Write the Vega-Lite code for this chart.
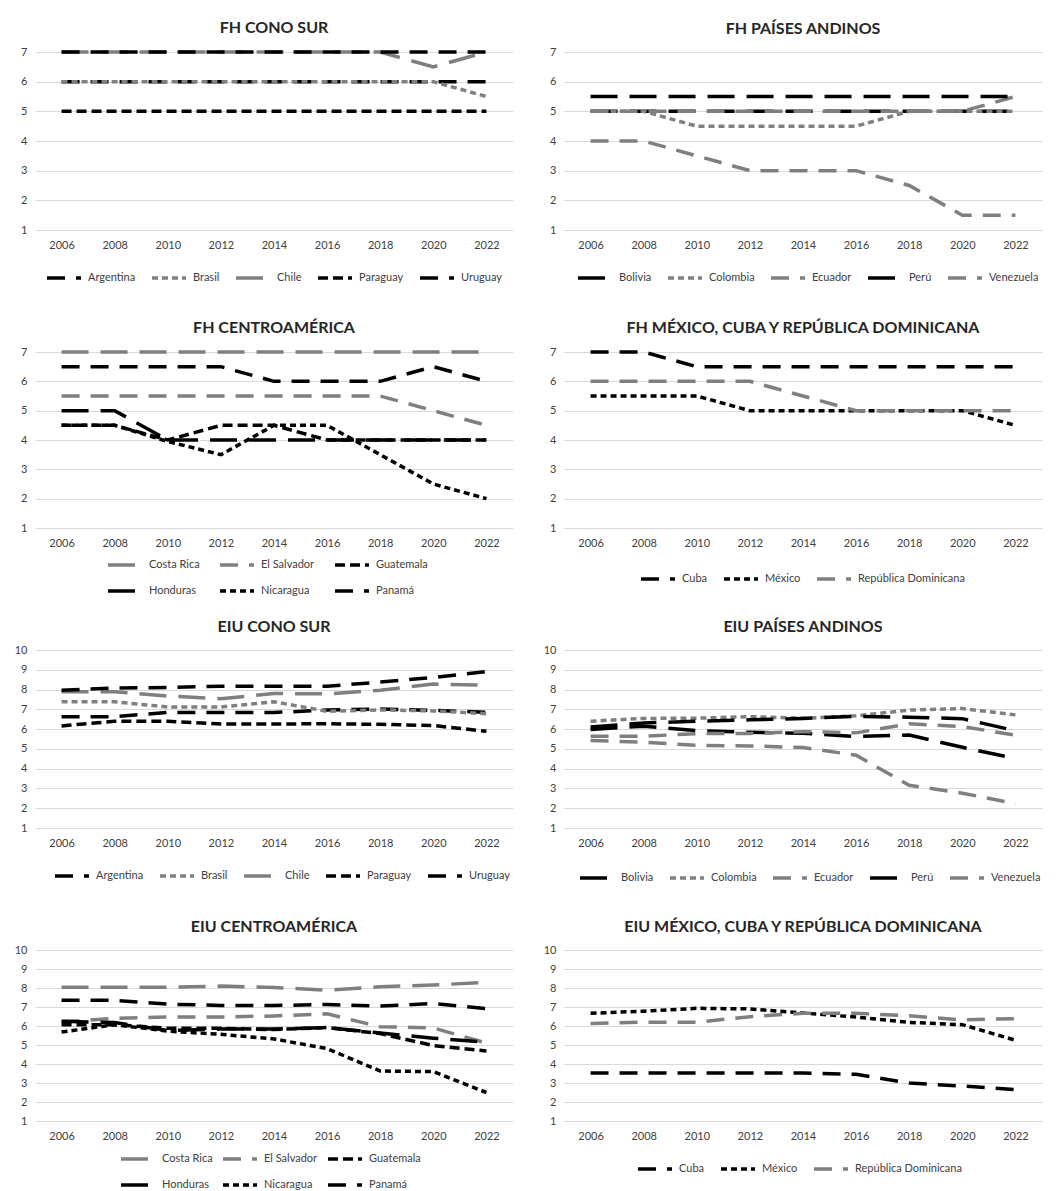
{
  "$schema": "https://vega.github.io/schema/vega-lite/v6.json",
  "padding": {"left": 14, "top": 20, "right": 5, "bottom": 5},
  "config": {
    "font": "Lato",
    "view": {"stroke": null},
    "axis": {"domain": false, "ticks": false, "labelFont": "Lato", "labelFontSize": 11, "labelColor": "#404040", "gridColor": "#d9d9d9", "gridWidth": 1, "title": null},
    "axisX": {"grid": false, "labelAngle": 0, "labelPadding": 9},
    "axisY": {"grid": true, "labelPadding": 8},
    "title": {"fontSize": 16, "font": "Lato", "fontWeight": "bold", "color": "#262626", "offset": 9, "anchor": "middle"},
    "legend": {"labelFont": "Lato", "labelFontSize": 11, "labelColor": "#404040", "symbolSize": 1156, "symbolStrokeWidth": 3.5, "labelOffset": 5, "columnPadding": 9, "rowPadding": -13, "symbolType": "stroke", "title": null}
  },
  "datasets": {
    "fh_cs": [
      {"year":"2006","country":"Argentina","value":6},{"year":"2008","country":"Argentina","value":6},{"year":"2010","country":"Argentina","value":6},{"year":"2012","country":"Argentina","value":6},{"year":"2014","country":"Argentina","value":6},{"year":"2016","country":"Argentina","value":6},{"year":"2018","country":"Argentina","value":6},{"year":"2020","country":"Argentina","value":6},{"year":"2022","country":"Argentina","value":6},
      {"year":"2006","country":"Brasil","value":6},{"year":"2008","country":"Brasil","value":6},{"year":"2010","country":"Brasil","value":6},{"year":"2012","country":"Brasil","value":6},{"year":"2014","country":"Brasil","value":6},{"year":"2016","country":"Brasil","value":6},{"year":"2018","country":"Brasil","value":6},{"year":"2020","country":"Brasil","value":6},{"year":"2022","country":"Brasil","value":5.5},
      {"year":"2006","country":"Chile","value":7},{"year":"2008","country":"Chile","value":7},{"year":"2010","country":"Chile","value":7},{"year":"2012","country":"Chile","value":7},{"year":"2014","country":"Chile","value":7},{"year":"2016","country":"Chile","value":7},{"year":"2018","country":"Chile","value":7},{"year":"2020","country":"Chile","value":6.5},{"year":"2022","country":"Chile","value":7},
      {"year":"2006","country":"Paraguay","value":5},{"year":"2008","country":"Paraguay","value":5},{"year":"2010","country":"Paraguay","value":5},{"year":"2012","country":"Paraguay","value":5},{"year":"2014","country":"Paraguay","value":5},{"year":"2016","country":"Paraguay","value":5},{"year":"2018","country":"Paraguay","value":5},{"year":"2020","country":"Paraguay","value":5},{"year":"2022","country":"Paraguay","value":5},
      {"year":"2006","country":"Uruguay","value":7},{"year":"2008","country":"Uruguay","value":7},{"year":"2010","country":"Uruguay","value":7},{"year":"2012","country":"Uruguay","value":7},{"year":"2014","country":"Uruguay","value":7},{"year":"2016","country":"Uruguay","value":7},{"year":"2018","country":"Uruguay","value":7},{"year":"2020","country":"Uruguay","value":7},{"year":"2022","country":"Uruguay","value":7}
    ],
    "fh_an": [
      {"year":"2006","country":"Bolivia","value":5},{"year":"2008","country":"Bolivia","value":5},{"year":"2010","country":"Bolivia","value":5},{"year":"2012","country":"Bolivia","value":5},{"year":"2014","country":"Bolivia","value":5},{"year":"2016","country":"Bolivia","value":5},{"year":"2018","country":"Bolivia","value":5},{"year":"2020","country":"Bolivia","value":5},{"year":"2022","country":"Bolivia","value":5},
      {"year":"2006","country":"Colombia","value":5},{"year":"2008","country":"Colombia","value":5},{"year":"2010","country":"Colombia","value":4.5},{"year":"2012","country":"Colombia","value":4.5},{"year":"2014","country":"Colombia","value":4.5},{"year":"2016","country":"Colombia","value":4.5},{"year":"2018","country":"Colombia","value":5},{"year":"2020","country":"Colombia","value":5},{"year":"2022","country":"Colombia","value":5},
      {"year":"2006","country":"Ecuador","value":5},{"year":"2008","country":"Ecuador","value":5},{"year":"2010","country":"Ecuador","value":5},{"year":"2012","country":"Ecuador","value":5},{"year":"2014","country":"Ecuador","value":5},{"year":"2016","country":"Ecuador","value":5},{"year":"2018","country":"Ecuador","value":5},{"year":"2020","country":"Ecuador","value":5},{"year":"2022","country":"Ecuador","value":5.5},
      {"year":"2006","country":"Perú","value":5.5},{"year":"2008","country":"Perú","value":5.5},{"year":"2010","country":"Perú","value":5.5},{"year":"2012","country":"Perú","value":5.5},{"year":"2014","country":"Perú","value":5.5},{"year":"2016","country":"Perú","value":5.5},{"year":"2018","country":"Perú","value":5.5},{"year":"2020","country":"Perú","value":5.5},{"year":"2022","country":"Perú","value":5.5},
      {"year":"2006","country":"Venezuela","value":4},{"year":"2008","country":"Venezuela","value":4},{"year":"2010","country":"Venezuela","value":3.5},{"year":"2012","country":"Venezuela","value":3},{"year":"2014","country":"Venezuela","value":3},{"year":"2016","country":"Venezuela","value":3},{"year":"2018","country":"Venezuela","value":2.5},{"year":"2020","country":"Venezuela","value":1.5},{"year":"2022","country":"Venezuela","value":1.5}
    ],
    "fh_ca": [
      {"year":"2006","country":"Costa Rica","value":7},{"year":"2008","country":"Costa Rica","value":7},{"year":"2010","country":"Costa Rica","value":7},{"year":"2012","country":"Costa Rica","value":7},{"year":"2014","country":"Costa Rica","value":7},{"year":"2016","country":"Costa Rica","value":7},{"year":"2018","country":"Costa Rica","value":7},{"year":"2020","country":"Costa Rica","value":7},{"year":"2022","country":"Costa Rica","value":7},
      {"year":"2006","country":"El Salvador","value":5.5},{"year":"2008","country":"El Salvador","value":5.5},{"year":"2010","country":"El Salvador","value":5.5},{"year":"2012","country":"El Salvador","value":5.5},{"year":"2014","country":"El Salvador","value":5.5},{"year":"2016","country":"El Salvador","value":5.5},{"year":"2018","country":"El Salvador","value":5.5},{"year":"2020","country":"El Salvador","value":5},{"year":"2022","country":"El Salvador","value":4.5},
      {"year":"2006","country":"Guatemala","value":4.5},{"year":"2008","country":"Guatemala","value":4.5},{"year":"2010","country":"Guatemala","value":4},{"year":"2012","country":"Guatemala","value":4.5},{"year":"2014","country":"Guatemala","value":4.5},{"year":"2016","country":"Guatemala","value":4},{"year":"2018","country":"Guatemala","value":4},{"year":"2020","country":"Guatemala","value":4},{"year":"2022","country":"Guatemala","value":4},
      {"year":"2006","country":"Honduras","value":5},{"year":"2008","country":"Honduras","value":5},{"year":"2010","country":"Honduras","value":4},{"year":"2012","country":"Honduras","value":4},{"year":"2014","country":"Honduras","value":4},{"year":"2016","country":"Honduras","value":4},{"year":"2018","country":"Honduras","value":4},{"year":"2020","country":"Honduras","value":4},{"year":"2022","country":"Honduras","value":4},
      {"year":"2006","country":"Nicaragua","value":4.5},{"year":"2008","country":"Nicaragua","value":4.5},{"year":"2010","country":"Nicaragua","value":3.95},{"year":"2012","country":"Nicaragua","value":3.5},{"year":"2014","country":"Nicaragua","value":4.5},{"year":"2016","country":"Nicaragua","value":4.5},{"year":"2018","country":"Nicaragua","value":3.5},{"year":"2020","country":"Nicaragua","value":2.5},{"year":"2022","country":"Nicaragua","value":2},
      {"year":"2006","country":"Panamá","value":6.5},{"year":"2008","country":"Panamá","value":6.5},{"year":"2010","country":"Panamá","value":6.5},{"year":"2012","country":"Panamá","value":6.5},{"year":"2014","country":"Panamá","value":6},{"year":"2016","country":"Panamá","value":6},{"year":"2018","country":"Panamá","value":6},{"year":"2020","country":"Panamá","value":6.5},{"year":"2022","country":"Panamá","value":6}
    ],
    "fh_mc": [
      {"year":"2006","country":"Cuba","value":7},{"year":"2008","country":"Cuba","value":7},{"year":"2010","country":"Cuba","value":6.5},{"year":"2012","country":"Cuba","value":6.5},{"year":"2014","country":"Cuba","value":6.5},{"year":"2016","country":"Cuba","value":6.5},{"year":"2018","country":"Cuba","value":6.5},{"year":"2020","country":"Cuba","value":6.5},{"year":"2022","country":"Cuba","value":6.5},
      {"year":"2006","country":"México","value":5.5},{"year":"2008","country":"México","value":5.5},{"year":"2010","country":"México","value":5.5},{"year":"2012","country":"México","value":5},{"year":"2014","country":"México","value":5},{"year":"2016","country":"México","value":5},{"year":"2018","country":"México","value":5},{"year":"2020","country":"México","value":5},{"year":"2022","country":"México","value":4.5},
      {"year":"2006","country":"República Dominicana","value":6},{"year":"2008","country":"República Dominicana","value":6},{"year":"2010","country":"República Dominicana","value":6},{"year":"2012","country":"República Dominicana","value":6},{"year":"2014","country":"República Dominicana","value":5.5},{"year":"2016","country":"República Dominicana","value":5},{"year":"2018","country":"República Dominicana","value":5},{"year":"2020","country":"República Dominicana","value":5},{"year":"2022","country":"República Dominicana","value":5}
    ],
    "eiu_cs": [
      {"year":"2006","country":"Argentina","value":6.63},{"year":"2008","country":"Argentina","value":6.63},{"year":"2010","country":"Argentina","value":6.84},{"year":"2012","country":"Argentina","value":6.84},{"year":"2014","country":"Argentina","value":6.84},{"year":"2016","country":"Argentina","value":6.96},{"year":"2018","country":"Argentina","value":7.02},{"year":"2020","country":"Argentina","value":6.95},{"year":"2022","country":"Argentina","value":6.85},
      {"year":"2006","country":"Brasil","value":7.38},{"year":"2008","country":"Brasil","value":7.38},{"year":"2010","country":"Brasil","value":7.12},{"year":"2012","country":"Brasil","value":7.12},{"year":"2014","country":"Brasil","value":7.38},{"year":"2016","country":"Brasil","value":6.9},{"year":"2018","country":"Brasil","value":6.97},{"year":"2020","country":"Brasil","value":6.92},{"year":"2022","country":"Brasil","value":6.78},
      {"year":"2006","country":"Chile","value":7.89},{"year":"2008","country":"Chile","value":7.89},{"year":"2010","country":"Chile","value":7.67},{"year":"2012","country":"Chile","value":7.54},{"year":"2014","country":"Chile","value":7.8},{"year":"2016","country":"Chile","value":7.78},{"year":"2018","country":"Chile","value":7.97},{"year":"2020","country":"Chile","value":8.28},{"year":"2022","country":"Chile","value":8.22},
      {"year":"2006","country":"Paraguay","value":6.16},{"year":"2008","country":"Paraguay","value":6.4},{"year":"2010","country":"Paraguay","value":6.4},{"year":"2012","country":"Paraguay","value":6.26},{"year":"2014","country":"Paraguay","value":6.26},{"year":"2016","country":"Paraguay","value":6.27},{"year":"2018","country":"Paraguay","value":6.24},{"year":"2020","country":"Paraguay","value":6.18},{"year":"2022","country":"Paraguay","value":5.89},
      {"year":"2006","country":"Uruguay","value":7.96},{"year":"2008","country":"Uruguay","value":8.08},{"year":"2010","country":"Uruguay","value":8.1},{"year":"2012","country":"Uruguay","value":8.17},{"year":"2014","country":"Uruguay","value":8.17},{"year":"2016","country":"Uruguay","value":8.17},{"year":"2018","country":"Uruguay","value":8.38},{"year":"2020","country":"Uruguay","value":8.61},{"year":"2022","country":"Uruguay","value":8.91}
    ],
    "eiu_an": [
      {"year":"2006","country":"Bolivia","value":5.98},{"year":"2008","country":"Bolivia","value":6.15},{"year":"2010","country":"Bolivia","value":5.92},{"year":"2012","country":"Bolivia","value":5.84},{"year":"2014","country":"Bolivia","value":5.79},{"year":"2016","country":"Bolivia","value":5.63},{"year":"2018","country":"Bolivia","value":5.7},{"year":"2020","country":"Bolivia","value":5.08},{"year":"2022","country":"Bolivia","value":4.51},
      {"year":"2006","country":"Colombia","value":6.4},{"year":"2008","country":"Colombia","value":6.54},{"year":"2010","country":"Colombia","value":6.55},{"year":"2012","country":"Colombia","value":6.63},{"year":"2014","country":"Colombia","value":6.55},{"year":"2016","country":"Colombia","value":6.67},{"year":"2018","country":"Colombia","value":6.96},{"year":"2020","country":"Colombia","value":7.04},{"year":"2022","country":"Colombia","value":6.72},
      {"year":"2006","country":"Ecuador","value":5.64},{"year":"2008","country":"Ecuador","value":5.64},{"year":"2010","country":"Ecuador","value":5.77},{"year":"2012","country":"Ecuador","value":5.78},{"year":"2014","country":"Ecuador","value":5.87},{"year":"2016","country":"Ecuador","value":5.81},{"year":"2018","country":"Ecuador","value":6.27},{"year":"2020","country":"Ecuador","value":6.13},{"year":"2022","country":"Ecuador","value":5.69},
      {"year":"2006","country":"Perú","value":6.11},{"year":"2008","country":"Perú","value":6.31},{"year":"2010","country":"Perú","value":6.4},{"year":"2012","country":"Perú","value":6.47},{"year":"2014","country":"Perú","value":6.54},{"year":"2016","country":"Perú","value":6.65},{"year":"2018","country":"Perú","value":6.6},{"year":"2020","country":"Perú","value":6.53},{"year":"2022","country":"Perú","value":5.92},
      {"year":"2006","country":"Venezuela","value":5.42},{"year":"2008","country":"Venezuela","value":5.34},{"year":"2010","country":"Venezuela","value":5.18},{"year":"2012","country":"Venezuela","value":5.15},{"year":"2014","country":"Venezuela","value":5.07},{"year":"2016","country":"Venezuela","value":4.68},{"year":"2018","country":"Venezuela","value":3.16},{"year":"2020","country":"Venezuela","value":2.76},{"year":"2022","country":"Venezuela","value":2.23}
    ],
    "eiu_ca": [
      {"year":"2006","country":"Costa Rica","value":8.04},{"year":"2008","country":"Costa Rica","value":8.04},{"year":"2010","country":"Costa Rica","value":8.04},{"year":"2012","country":"Costa Rica","value":8.1},{"year":"2014","country":"Costa Rica","value":8.03},{"year":"2016","country":"Costa Rica","value":7.88},{"year":"2018","country":"Costa Rica","value":8.07},{"year":"2020","country":"Costa Rica","value":8.16},{"year":"2022","country":"Costa Rica","value":8.29},
      {"year":"2006","country":"El Salvador","value":6.22},{"year":"2008","country":"El Salvador","value":6.4},{"year":"2010","country":"El Salvador","value":6.47},{"year":"2012","country":"El Salvador","value":6.47},{"year":"2014","country":"El Salvador","value":6.53},{"year":"2016","country":"El Salvador","value":6.64},{"year":"2018","country":"El Salvador","value":5.96},{"year":"2020","country":"El Salvador","value":5.9},{"year":"2022","country":"El Salvador","value":5.1},
      {"year":"2006","country":"Guatemala","value":6.07},{"year":"2008","country":"Guatemala","value":6.07},{"year":"2010","country":"Guatemala","value":5.88},{"year":"2012","country":"Guatemala","value":5.88},{"year":"2014","country":"Guatemala","value":5.81},{"year":"2016","country":"Guatemala","value":5.92},{"year":"2018","country":"Guatemala","value":5.6},{"year":"2020","country":"Guatemala","value":4.97},{"year":"2022","country":"Guatemala","value":4.68},
      {"year":"2006","country":"Honduras","value":6.25},{"year":"2008","country":"Honduras","value":6.18},{"year":"2010","country":"Honduras","value":5.76},{"year":"2012","country":"Honduras","value":5.84},{"year":"2014","country":"Honduras","value":5.84},{"year":"2016","country":"Honduras","value":5.92},{"year":"2018","country":"Honduras","value":5.63},{"year":"2020","country":"Honduras","value":5.36},{"year":"2022","country":"Honduras","value":5.15},
      {"year":"2006","country":"Nicaragua","value":5.68},{"year":"2008","country":"Nicaragua","value":6.07},{"year":"2010","country":"Nicaragua","value":5.73},{"year":"2012","country":"Nicaragua","value":5.56},{"year":"2014","country":"Nicaragua","value":5.32},{"year":"2016","country":"Nicaragua","value":4.81},{"year":"2018","country":"Nicaragua","value":3.63},{"year":"2020","country":"Nicaragua","value":3.6},{"year":"2022","country":"Nicaragua","value":2.5},
      {"year":"2006","country":"Panamá","value":7.35},{"year":"2008","country":"Panamá","value":7.35},{"year":"2010","country":"Panamá","value":7.15},{"year":"2012","country":"Panamá","value":7.08},{"year":"2014","country":"Panamá","value":7.08},{"year":"2016","country":"Panamá","value":7.13},{"year":"2018","country":"Panamá","value":7.05},{"year":"2020","country":"Panamá","value":7.18},{"year":"2022","country":"Panamá","value":6.91}
    ],
    "eiu_mc": [
      {"year":"2006","country":"Cuba","value":3.52},{"year":"2008","country":"Cuba","value":3.52},{"year":"2010","country":"Cuba","value":3.52},{"year":"2012","country":"Cuba","value":3.52},{"year":"2014","country":"Cuba","value":3.52},{"year":"2016","country":"Cuba","value":3.46},{"year":"2018","country":"Cuba","value":3.0},{"year":"2020","country":"Cuba","value":2.84},{"year":"2022","country":"Cuba","value":2.65},
      {"year":"2006","country":"México","value":6.67},{"year":"2008","country":"México","value":6.78},{"year":"2010","country":"México","value":6.93},{"year":"2012","country":"México","value":6.9},{"year":"2014","country":"México","value":6.68},{"year":"2016","country":"México","value":6.47},{"year":"2018","country":"México","value":6.19},{"year":"2020","country":"México","value":6.07},{"year":"2022","country":"México","value":5.25},
      {"year":"2006","country":"República Dominicana","value":6.13},{"year":"2008","country":"República Dominicana","value":6.2},{"year":"2010","country":"República Dominicana","value":6.2},{"year":"2012","country":"República Dominicana","value":6.49},{"year":"2014","country":"República Dominicana","value":6.67},{"year":"2016","country":"República Dominicana","value":6.67},{"year":"2018","country":"República Dominicana","value":6.54},{"year":"2020","country":"República Dominicana","value":6.32},{"year":"2022","country":"República Dominicana","value":6.39}
    ]
  },
  "bounds": "flush",
  "columns": 2,
  "spacing": {"row": 122, "column": 51},
  "resolve": {"scale": {"x": "independent", "y": "independent", "color": "independent", "strokeDash": "independent"}, "legend": {"color": "independent", "strokeDash": "independent"}},
  "concat": [
    {
      "title": "FH CONO SUR", "width": 478, "height": 178, "data": {"name": "fh_cs"},
      "mark": {"type": "line", "strokeWidth": 3.5},
      "encoding": {
        "x": {"field": "year", "type": "ordinal", "scale": {"type": "point", "padding": 0.5}},
        "y": {"field": "value", "type": "quantitative", "scale": {"domain": [1, 7], "nice": false, "zero": false}, "axis": {"values": [1, 2, 3, 4, 5, 6, 7]}},
        "color": {"field": "country", "type": "nominal", "scale": {"domain": ["Argentina", "Brasil", "Chile", "Paraguay", "Uruguay"], "range": ["#000000", "#7f7f7f", "#7f7f7f", "#000000", "#000000"]}, "legend": {"orient": "none", "legendX": 10, "legendY": 207, "direction": "horizontal", "columns": 5}},
        "strokeDash": {"field": "country", "type": "nominal", "scale": {"domain": ["Argentina", "Brasil", "Chile", "Paraguay", "Uruguay"], "range": [[18, 11], [6, 4], [27, 12], [10, 5], [18, 11]]}, "legend": {"orient": "none", "legendX": 10, "legendY": 207, "direction": "horizontal", "columns": 5}}
      }
    },
    {
      "title": "FH PAÍSES ANDINOS", "width": 478, "height": 178, "data": {"name": "fh_an"},
      "mark": {"type": "line", "strokeWidth": 3.5},
      "encoding": {
        "x": {"field": "year", "type": "ordinal", "scale": {"type": "point", "padding": 0.5}},
        "y": {"field": "value", "type": "quantitative", "scale": {"domain": [1, 7], "nice": false, "zero": false}, "axis": {"values": [1, 2, 3, 4, 5, 6, 7]}},
        "color": {"field": "country", "type": "nominal", "scale": {"domain": ["Bolivia", "Colombia", "Ecuador", "Perú", "Venezuela"], "range": ["#000000", "#7f7f7f", "#7f7f7f", "#000000", "#7f7f7f"]}, "legend": {"orient": "none", "legendX": 12, "legendY": 207, "direction": "horizontal", "columns": 5}},
        "strokeDash": {"field": "country", "type": "nominal", "scale": {"domain": ["Bolivia", "Colombia", "Ecuador", "Perú", "Venezuela"], "range": [[27, 12], [6, 4], [18, 11], [27, 12], [18, 11]]}, "legend": {"orient": "none", "legendX": 12, "legendY": 207, "direction": "horizontal", "columns": 5}}
      }
    },
    {
      "title": "FH CENTROAMÉRICA", "width": 478, "height": 176, "data": {"name": "fh_ca"},
      "mark": {"type": "line", "strokeWidth": 3.5},
      "encoding": {
        "x": {"field": "year", "type": "ordinal", "scale": {"type": "point", "padding": 0.5}},
        "y": {"field": "value", "type": "quantitative", "scale": {"domain": [1, 7], "nice": false, "zero": false}, "axis": {"values": [1, 2, 3, 4, 5, 6, 7]}},
        "color": {"field": "country", "type": "nominal", "scale": {"domain": ["Costa Rica", "El Salvador", "Guatemala", "Honduras", "Nicaragua", "Panamá"], "range": ["#7f7f7f", "#7f7f7f", "#000000", "#000000", "#000000", "#000000"]}, "legend": {"orient": "none", "legendX": 71, "legendY": 194, "direction": "horizontal", "columns": 3, "columnPadding": 13}},
        "strokeDash": {"field": "country", "type": "nominal", "scale": {"domain": ["Costa Rica", "El Salvador", "Guatemala", "Honduras", "Nicaragua", "Panamá"], "range": [[27, 12], [18, 11], [10, 5], [27, 12], [6, 4], [18, 11]]}, "legend": {"orient": "none", "legendX": 71, "legendY": 194, "direction": "horizontal", "columns": 3, "columnPadding": 13}}
      }
    },
    {
      "title": "FH MÉXICO, CUBA Y REPÚBLICA DOMINICANA", "width": 478, "height": 176, "data": {"name": "fh_mc"},
      "mark": {"type": "line", "strokeWidth": 3.5},
      "encoding": {
        "x": {"field": "year", "type": "ordinal", "scale": {"type": "point", "padding": 0.5}},
        "y": {"field": "value", "type": "quantitative", "scale": {"domain": [1, 7], "nice": false, "zero": false}, "axis": {"values": [1, 2, 3, 4, 5, 6, 7]}},
        "color": {"field": "country", "type": "nominal", "scale": {"domain": ["Cuba", "México", "República Dominicana"], "range": ["#000000", "#000000", "#7f7f7f"]}, "legend": {"orient": "none", "legendX": 75, "legendY": 208, "direction": "horizontal", "columns": 3}},
        "strokeDash": {"field": "country", "type": "nominal", "scale": {"domain": ["Cuba", "México", "República Dominicana"], "range": [[18, 11], [6, 4], [18, 11]]}, "legend": {"orient": "none", "legendX": 75, "legendY": 208, "direction": "horizontal", "columns": 3}}
      }
    },
    {
      "title": "EIU CONO SUR", "width": 478, "height": 178, "data": {"name": "eiu_cs"},
      "mark": {"type": "line", "strokeWidth": 3.5},
      "encoding": {
        "x": {"field": "year", "type": "ordinal", "scale": {"type": "point", "padding": 0.5}},
        "y": {"field": "value", "type": "quantitative", "scale": {"domain": [1, 10], "nice": false, "zero": false}, "axis": {"values": [1, 2, 3, 4, 5, 6, 7, 8, 9, 10]}},
        "color": {"field": "country", "type": "nominal", "scale": {"domain": ["Argentina", "Brasil", "Chile", "Paraguay", "Uruguay"], "range": ["#000000", "#7f7f7f", "#7f7f7f", "#000000", "#000000"]}, "legend": {"orient": "none", "legendX": 18, "legendY": 207, "direction": "horizontal", "columns": 5}},
        "strokeDash": {"field": "country", "type": "nominal", "scale": {"domain": ["Argentina", "Brasil", "Chile", "Paraguay", "Uruguay"], "range": [[18, 11], [6, 4], [27, 12], [10, 5], [18, 11]]}, "legend": {"orient": "none", "legendX": 18, "legendY": 207, "direction": "horizontal", "columns": 5}}
      }
    },
    {
      "title": "EIU PAÍSES ANDINOS", "width": 478, "height": 178, "data": {"name": "eiu_an"},
      "mark": {"type": "line", "strokeWidth": 3.5},
      "encoding": {
        "x": {"field": "year", "type": "ordinal", "scale": {"type": "point", "padding": 0.5}},
        "y": {"field": "value", "type": "quantitative", "scale": {"domain": [1, 10], "nice": false, "zero": false}, "axis": {"values": [1, 2, 3, 4, 5, 6, 7, 8, 9, 10]}},
        "color": {"field": "country", "type": "nominal", "scale": {"domain": ["Bolivia", "Colombia", "Ecuador", "Perú", "Venezuela"], "range": ["#000000", "#7f7f7f", "#7f7f7f", "#000000", "#7f7f7f"]}, "legend": {"orient": "none", "legendX": 14, "legendY": 209, "direction": "horizontal", "columns": 5}},
        "strokeDash": {"field": "country", "type": "nominal", "scale": {"domain": ["Bolivia", "Colombia", "Ecuador", "Perú", "Venezuela"], "range": [[27, 12], [6, 4], [18, 11], [27, 12], [18, 11]]}, "legend": {"orient": "none", "legendX": 14, "legendY": 209, "direction": "horizontal", "columns": 5}}
      }
    },
    {
      "title": "EIU CENTROAMÉRICA", "width": 478, "height": 171, "data": {"name": "eiu_ca"},
      "mark": {"type": "line", "strokeWidth": 3.5},
      "encoding": {
        "x": {"field": "year", "type": "ordinal", "scale": {"type": "point", "padding": 0.5}},
        "y": {"field": "value", "type": "quantitative", "scale": {"domain": [1, 10], "nice": false, "zero": false}, "axis": {"values": [1, 2, 3, 4, 5, 6, 7, 8, 9, 10]}},
        "color": {"field": "country", "type": "nominal", "scale": {"domain": ["Costa Rica", "El Salvador", "Guatemala", "Honduras", "Nicaragua", "Panamá"], "range": ["#7f7f7f", "#7f7f7f", "#000000", "#000000", "#000000", "#000000"]}, "legend": {"orient": "none", "legendX": 84, "legendY": 190, "direction": "horizontal", "columns": 3, "columnPadding": 3}},
        "strokeDash": {"field": "country", "type": "nominal", "scale": {"domain": ["Costa Rica", "El Salvador", "Guatemala", "Honduras", "Nicaragua", "Panamá"], "range": [[27, 12], [18, 11], [10, 5], [27, 12], [6, 4], [18, 11]]}, "legend": {"orient": "none", "legendX": 84, "legendY": 190, "direction": "horizontal", "columns": 3, "columnPadding": 3}}
      }
    },
    {
      "title": "EIU MÉXICO, CUBA Y REPÚBLICA DOMINICANA", "width": 478, "height": 171, "data": {"name": "eiu_mc"},
      "mark": {"type": "line", "strokeWidth": 3.5},
      "encoding": {
        "x": {"field": "year", "type": "ordinal", "scale": {"type": "point", "padding": 0.5}},
        "y": {"field": "value", "type": "quantitative", "scale": {"domain": [1, 10], "nice": false, "zero": false}, "axis": {"values": [1, 2, 3, 4, 5, 6, 7, 8, 9, 10]}},
        "color": {"field": "country", "type": "nominal", "scale": {"domain": ["Cuba", "México", "República Dominicana"], "range": ["#000000", "#000000", "#7f7f7f"]}, "legend": {"orient": "none", "legendX": 72, "legendY": 200, "direction": "horizontal", "columns": 3}},
        "strokeDash": {"field": "country", "type": "nominal", "scale": {"domain": ["Cuba", "México", "República Dominicana"], "range": [[18, 11], [6, 4], [18, 11]]}, "legend": {"orient": "none", "legendX": 72, "legendY": 200, "direction": "horizontal", "columns": 3}}
      }
    }
  ]
}
